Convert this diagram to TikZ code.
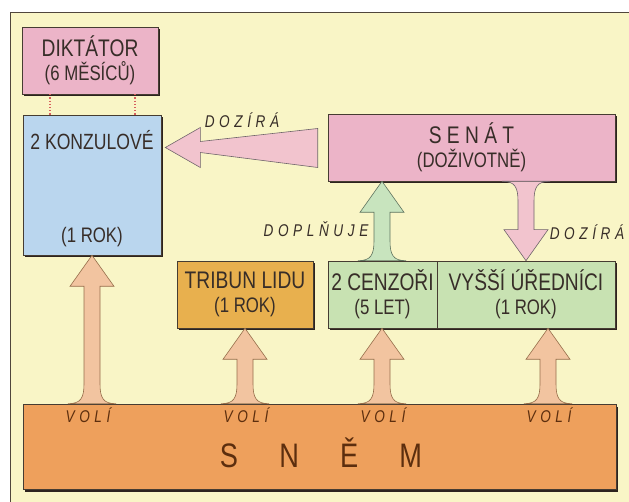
\documentclass[tikz,border=0pt]{standalone}
\usepackage{fontspec}
\setmainfont{Liberation Sans}[FakeStretch=0.8]
\usetikzlibrary{calc,shadows}

\definecolor{panelbg}{RGB}{249,245,198}
\definecolor{frame}{RGB}{80,70,60}
\definecolor{boxline}{RGB}{70,60,50}
\definecolor{shade}{RGB}{45,35,30}
\definecolor{pinkbox}{RGB}{236,180,200}
\definecolor{bluebox}{RGB}{186,214,238}
\definecolor{goldbox}{RGB}{232,176,78}
\definecolor{greenbox}{RGB}{200,226,178}
\definecolor{orangebox}{RGB}{238,160,92}
\definecolor{volifill}{RGB}{242,196,160}
\definecolor{voliline}{RGB}{150,110,75}
\definecolor{greenfill}{RGB}{200,228,190}
\definecolor{greenline}{RGB}{95,115,95}
\definecolor{pinkfill}{RGB}{242,196,206}
\definecolor{pinkline}{RGB}{110,100,105}
\definecolor{ink}{RGB}{55,45,40}
\definecolor{snemink}{RGB}{92,46,14}
\definecolor{dotred}{RGB}{215,95,95}

\newcommand{\termsize}{\fontsize{21}{24}\selectfont}
\newcommand{\flowarrow}[3]{%
    \path[#1] let \p1=(#2), \p2=(#3), \n1={sign(\y2-\y1)} in
        (\x1-24pt,\y1)
        .. controls (\x1-11pt,\y1) and (\x1-8pt,\y1+\n1*6pt) .. (\x1-8pt,\y1+\n1*20pt)
        -- (\x1-8pt,\y2-\n1*31pt) -- (\x1-22pt,\y2-\n1*31pt) -- (\x1,\y2)
        -- (\x1+22pt,\y2-\n1*31pt) -- (\x1+8pt,\y2-\n1*31pt) -- (\x1+8pt,\y1+\n1*20pt)
        .. controls (\x1+8pt,\y1+\n1*6pt) and (\x1+11pt,\y1) .. (\x1+24pt,\y1) -- cycle;}

\begin{document}
\begin{tikzpicture}[
            x=1pt, y=1pt,
            box/.style={draw=boxline, line width=0.6pt, inner sep=0pt, align=center, text=ink,
                font=\fontsize{24}{24}\selectfont,
                general shadow={fill=shade, shadow xshift=2pt, shadow yshift=-2.5pt}},
            title/.style={text=ink, font=\fontsize{22}{24}\selectfont},
            term/.style={text=ink, font=\termsize},
            verb/.style={text=ink, inner sep=0pt,
                font=\fontsize{17}{18}\selectfont\itshape\addfontfeature{LetterSpace=27}},
            voliflow/.style={fill=volifill, draw=voliline, line width=0.6pt},
            greenflow/.style={fill=greenfill, draw=greenline, line width=0.6pt},
            pinkflow/.style={fill=pinkfill, draw=pinkline, line width=0.6pt},
            dotline/.style={draw=dotred, dotted, line width=1.2pt}
        ]
        \useasboundingbox (0,0) rectangle (629,501);
        \draw[frame, fill=panelbg, line width=0.8pt] (10,-20) rectangle (660,489);

        \node[box, fill=pinkbox, minimum width=136pt, minimum height=67pt] (diktator) at (90,440.5)
            {DIKTÁTOR\\{\termsize (6 MĚSÍCŮ)}};
        \node[box, fill=bluebox, minimum width=138pt, minimum height=140pt] (konz) at (92,316) {};
        \node[title] (konzname) at (92,361) {2 KONZULOVÉ};
        \node[term] (konzterm) at (92,264) {(1 ROK)};
        \node[box, fill=pinkbox, minimum width=287pt, minimum height=67pt] (senat) at (471.5,353.5)
            {S E N Á T\\{\termsize (DOŽIVOTNĚ)}};
        \node[box, fill=goldbox, minimum width=136pt, minimum height=67pt] (tribun) at (245,206.5)
            {TRIBUN LIDU\\{\termsize (1 ROK)}};
        \node[box, fill=greenbox, minimum width=109pt, minimum height=67pt] (cenzori) at (382.5,206.5)
            {2 CENZOŘI\\{\termsize (5 LET)}};
        \node[box, fill=greenbox, minimum width=178pt, minimum height=67pt] (urednici) at (526,206.5)
            {VYŠŠÍ ÚŘEDNÍCI\\{\termsize (1 ROK)}};
        \node[box, fill=orangebox, minimum width=593pt, minimum height=85pt] (snem) at (319.5,54.5) {};
        \node[text=snemink, font=\fontsize{34}{36}\selectfont\addfontfeature{LetterSpace=121}]
            (snemname) at (321,48) {SNĚM};

        \foreach \px in {50,135}
            \draw[dotline] (\px,0 |- diktator.south) -- (\px,0 |- konz.north);

        \path[pinkflow] let \p1=(senat.west), \p2=(konz.east) in
            (\x2+4pt,\y1) -- (\x2+39pt,\y1+20pt) -- (\x2+39pt,\y1+6pt) -- (\x1-10pt,\y1+19pt)
            -- (\x1-10pt,\y1-20pt) -- (\x2+39pt,\y1-5pt) -- (\x2+39pt,\y1-20pt) -- cycle;
        \flowarrow{greenflow}{382,0 |- cenzori.north}{382,0 |- senat.south}
        \flowarrow{pinkflow}{526,0 |- senat.south}{526,0 |- urednici.north}
        \flowarrow{voliflow}{92,0 |- snem.north}{92,0 |- konz.south}
        \flowarrow{voliflow}{245,0 |- snem.north}{245,0 |- tribun.south}
        \flowarrow{voliflow}{382,0 |- snem.north}{382,0 |- cenzori.south}
        \flowarrow{voliflow}{548,0 |- snem.north}{548,0 |- urednici.south}

        \node[verb] (dozira) at (242,381) {DOZÍRÁ};
        \node[verb] (doplnuje) at (316,272) {DOPLŇUJE};
        \node[verb] (dozirab) at (587,269) {DOZÍRÁ};
        \node[verb, text=snemink] (voli1) at (88,86) {VOLÍ};
        \node[verb, text=snemink] (voli2) at (246,86) {VOLÍ};
        \node[verb, text=snemink] (voli3) at (383,86) {VOLÍ};
        \node[verb, text=snemink] (voli4) at (549,86) {VOLÍ};
    \end{tikzpicture}
\end{document}
